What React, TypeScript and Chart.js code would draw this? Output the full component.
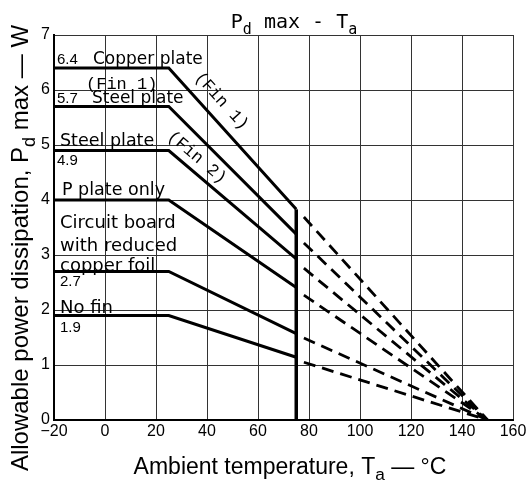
import React, { useEffect, useRef } from "react";
import { Chart, registerables } from "chart.js";

Chart.register(...registerables);

// ---- Data ----
const seriesNames = [
  "Copper plate (Fin 1)",
  "Steel plate",
  "Steel plate (Fin 2)",
  "P plate only",
  "Circuit board with reduced copper foil",
  "No fin",
];
const flatPower = [6.4, 5.7, 4.9, 4.0, 2.7, 1.9]; // W, flat region
const cutoffPower = [3.83, 3.38, 2.93, 2.41, 1.57, 1.14]; // W at cutoff temperature
const dashStartPower = [3.69, 3.22, 2.76, 2.27, 1.49, 1.05]; // W where dashed extrapolation starts
const startTemp = -20;
const kneeTemp = 25;
const cutoffTemp = 75;
const dashStartTemp = 78;
const zeroPowerTemp = 150;
const xMin = -20;
const xMax = 160;
const xStep = 20;
const yMin = 0;
const yMax = 7;
const yStep = 1;

type Seg = { t: string; sub?: boolean };

function drawRich(
  ctx: CanvasRenderingContext2D,
  segs: Seg[],
  x: number,
  y: number,
  size: number,
  family: string,
  align: "left" | "center"
) {
  const subSize = size * 0.75;
  ctx.textAlign = "left";
  ctx.textBaseline = "alphabetic";
  const widths = segs.map((s) => {
    ctx.font = `${s.sub ? subSize : size}px ${family}`;
    return ctx.measureText(s.t).width;
  });
  const total = widths.reduce((a, b) => a + b, 0);
  let cx = align === "center" ? x - total / 2 : x;
  segs.forEach((s, i) => {
    ctx.font = `${s.sub ? subSize : size}px ${family}`;
    ctx.fillText(s.t, cx, y + (s.sub ? size * 0.28 : 0));
    cx += widths[i];
  });
}

const labelPlugin = {
  id: "labelPlugin",
  afterDatasetsDraw(chart: any) {
    const ctx: CanvasRenderingContext2D = chart.ctx;
    const xs = chart.scales.x;
    const ys = chart.scales.y;
    const L = chart.chartArea.left;
    const sans = '"DejaVu Sans"';
    const num = '"Liberation Sans"';
    const mono = '"Liberation Mono"';
    ctx.save();
    ctx.fillStyle = "#000";
    const txt = (s: string, x: number, y: number, font: string) => {
      ctx.font = font;
      ctx.textAlign = "left";
      ctx.textBaseline = "alphabetic";
      ctx.fillText(s, x, y);
    };
    const yv = (v: number) => ys.getPixelForValue(v);
    // Copper plate
    txt("6.4", L + 3, yv(flatPower[0]) - 4, `15px ${num}`);
    txt("Copper plate", L + 39, yv(flatPower[0]) - 4, `17px ${sans}`);
    txt("(Fin 1)", L + 32, yv(flatPower[0]) + 21, `17px ${mono}`);
    // Steel plate
    txt("5.7", L + 3, yv(flatPower[1]) - 4, `15px ${num}`);
    txt("Steel plate", L + 38, yv(flatPower[1]) - 4, `17px ${sans}`);
    // Steel plate (Fin 2)
    txt("Steel plate", L + 6, yv(flatPower[2]) - 5, `17.5px ${sans}`);
    txt("4.9", L + 3, yv(flatPower[2]) + 14, `15px ${num}`);
    // P plate only
    txt("P plate only", L + 8, yv(flatPower[3]) - 5, `17.5px ${sans}`);
    // Circuit board
    const cb = yv(flatPower[4]);
    txt("Circuit board", L + 6, cb - 44, `18px ${sans}`);
    txt("with reduced", L + 6, cb - 21, `18px ${sans}`);
    txt("copper foil", L + 6, cb - 1, `18px ${sans}`);
    txt("2.7", L + 6, cb + 14, `15px ${num}`);
    // No fin
    txt("No fin", L + 6, yv(flatPower[5]) - 3, `18px ${sans}`);
    txt("1.9", L + 6, yv(flatPower[5]) + 16, `15px ${num}`);

    // rotated labels along slopes
    const rotLabel = (i: number, along: number, perp: number, s: string) => {
      const x1 = xs.getPixelForValue(kneeTemp);
      const y1 = yv(flatPower[i]);
      const x2 = xs.getPixelForValue(cutoffTemp);
      const y2 = yv(cutoffPower[i]);
      const len = Math.hypot(x2 - x1, y2 - y1);
      const ux = (x2 - x1) / len;
      const uy = (y2 - y1) / len;
      const nx = uy;
      const ny = -ux;
      const cx = x1 + along * ux + perp * nx;
      const cy = y1 + along * uy + perp * ny;
      ctx.save();
      ctx.translate(cx, cy);
      ctx.rotate(Math.atan2(uy, ux));
      ctx.font = `17px ${mono}`;
      ctx.textAlign = "center";
      ctx.textBaseline = "middle";
      ctx.fillText(s, 0, 0);
      ctx.restore();
    };
    rotLabel(0, 60, 17, "(Fin 1)");
    rotLabel(2, 26, 13, "(Fin 2)");

    // titles
    drawRich(ctx, [{ t: "P" }, { t: "d", sub: true }, { t: " max - T" }, { t: "a", sub: true }], 294, 28, 20, '"DejaVu Sans Mono"', "center");
    drawRich(ctx, [{ t: "Ambient temperature, T" }, { t: "a", sub: true }, { t: " \u2014 \u00B0C" }], 290, 474, 23, '"Liberation Sans"', "center");
    ctx.save();
    ctx.translate(28, 248);
    ctx.rotate(-Math.PI / 2);
    drawRich(ctx, [{ t: "Allowable power dissipation, P" }, { t: "d", sub: true }, { t: " max \u2014 W" }], 0, 0, 24, '"Liberation Sans"', "center");
    ctx.restore();
    ctx.restore();
  },
};

export default function App() {
  const ref = useRef<HTMLCanvasElement | null>(null);
  useEffect(() => {
    if (!ref.current) return;
    const solid = flatPower.map((v, i) => ({
      label: seriesNames[i],
      data: [
        { x: startTemp, y: v },
        { x: kneeTemp, y: v },
        { x: cutoffTemp, y: cutoffPower[i] },
      ],
      borderColor: "#000",
      borderWidth: 3,
      pointRadius: 0,
      fill: false,
      tension: 0,
    }));
    const dashed = flatPower.map((v, i) => ({
      label: seriesNames[i] + " (extrapolated)",
      data: [
        { x: dashStartTemp, y: dashStartPower[i] },
        { x: zeroPowerTemp, y: 0 },
      ],
      borderColor: "#000",
      borderWidth: 2.8,
      borderDash: [12, 7],
      pointRadius: 0,
      fill: false,
      tension: 0,
    }));
    const cutoff = {
      label: "Cutoff",
      data: [
        { x: cutoffTemp, y: 0 },
        { x: cutoffTemp, y: cutoffPower[0] },
      ],
      borderColor: "#000",
      borderWidth: 3.5,
      pointRadius: 0,
      fill: false,
    };
    const chart = new Chart(ref.current, {
      type: "line",
      data: { datasets: [...solid, ...dashed, cutoff] as any },
      options: {
        responsive: false,
        animation: false,
        layout: { padding: { left: 0, right: 18, top: 35, bottom: 0 } },
        plugins: { legend: { display: false }, tooltip: { enabled: false }, title: { display: false } },
        scales: {
          x: {
            type: "linear",
            min: xMin,
            max: xMax,
            ticks: {
              stepSize: xStep,
              color: "#000",
              font: { family: '"Liberation Sans"', size: 16 },
              padding: 2,
              maxRotation: 0,
              callback: (v: any) => (Number(v) < 0 ? "\u2212" + Math.abs(Number(v)) : String(v)),
            },
            grid: { color: "#333", lineWidth: 1, drawTicks: false },
            border: { color: "#000", width: 2 },
            afterFit: (s: any) => {
              s.height = 68;
            },
          },
          y: {
            type: "linear",
            min: yMin,
            max: yMax,
            ticks: {
              stepSize: yStep,
              color: "#000",
              font: { family: '"Liberation Sans"', size: 16 },
              padding: 4,
            },
            grid: { color: "#333", lineWidth: 1, drawTicks: false },
            border: { color: "#000", width: 2 },
            afterFit: (s: any) => {
              s.width = 54;
            },
          },
        },
      },
      plugins: [labelPlugin],
    });
    return () => chart.destroy();
  }, []);
  return (
    <div style={{ position: "fixed", left: 0, top: 0, width: 531, height: 488, background: "#fff" }}>
      <canvas ref={ref} width={531} height={488} />
    </div>
  );
}
